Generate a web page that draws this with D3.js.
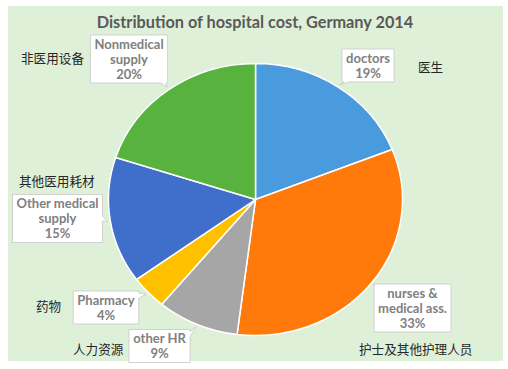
<!DOCTYPE html>
<html>
<head>
<meta charset="utf-8">
<script src="https://cdn.jsdelivr.net/npm/d3@7"></script>
<style>
  html, body { margin: 0; padding: 0; background: #fff; }
  svg { display: block; }
</style>
</head>
<body>
<svg id="chart" width="508" height="369"></svg>
<script>
// ---------- data ----------
const categories = ["doctors", "nurses & medical ass.", "other HR", "Pharmacy", "Other medical supply", "Nonmedical supply"];
const shares = [19, 33, 9, 4, 15, 20];
const labelLines = [
  ["doctors"],
  ["nurses &", "medical ass."],
  ["other HR"],
  ["Pharmacy"],
  ["Other medical", "supply"],
  ["Nonmedical", "supply"]
];
const chineseNames = ["医生", "护士及其他护理人员", "人力资源", "药物", "其他医用耗材", "非医用设备"];
const colors = ["#4a9ade", "#ff7a0a", "#a6a6a6", "#ffc000", "#3f6fca", "#58b33e"];
const title = "Distribution of hospital cost, Germany 2014";

// ---------- layout ----------
const cx = 255.5, cy = 199.5, rx = 147, ry = 136;
// callout box centres and chinese label positions (layout only)
const boxPos = [[368, 65.5], [412.5, 308], [159.5, 346], [106, 307.5], [57.5, 218.5], [129, 59]];
const cnPos = [[418, 67], [359, 349], [73, 349], [36, 306], [19, 181], [21, 58]];

const svg = d3.select("#chart");

svg.append("rect")
  .attr("x", 8).attr("y", 6)
  .attr("width", 495).attr("height", 355)
  .attr("fill", "#dff0d8");

svg.append("text")
  .attr("x", 255).attr("y", 28)
  .attr("text-anchor", "middle")
  .attr("font-family", "Lato, 'Open Sans', sans-serif")
  .attr("font-weight", "bold")
  .attr("font-size", 16.3)
  .attr("fill", "#595959")
  .text(title);

const data = categories.map((c, i) => ({ name: c, value: shares[i], i }));
const pie = d3.pie().sort(null).value(d => d.value);
const arcs = pie(data);
const arc = d3.arc().innerRadius(0).outerRadius(ry);

const pieG = svg.append("g")
  .attr("transform", `translate(${cx},${cy}) scale(${rx / ry},1)`);

pieG.selectAll("path")
  .data(arcs)
  .join("path")
  .attr("d", arc)
  .attr("fill", d => colors[d.data.i])
  .attr("stroke", "#fff")
  .attr("stroke-width", 1.5)
  .attr("vector-effect", "non-scaling-stroke");

// point on the ellipse at a given angle (0 = top, clockwise)
function ellipsePoint(a, k = 1) {
  return [cx + rx * k * Math.sin(a), cy - ry * k * Math.cos(a)];
}

// rectangle callout with a wedge pointing at (tx, ty)
function calloutPath(x0, y0, x1, y1, tx, ty) {
  const ccx = (x0 + x1) / 2, ccy = (y0 + y1) / 2;
  const dx = tx - ccx, dy = ty - ccy;
  const w = 5;
  const hw = (x1 - x0) / 2, hh = (y1 - y0) / 2;
  let side;
  if (Math.abs(dx) / hw > Math.abs(dy) / hh) side = dx > 0 ? "r" : "l";
  else side = dy > 0 ? "b" : "t";
  const clampX = v => Math.max(x0 + 2, Math.min(x1 - 2 - w, v));
  const clampY = v => Math.max(y0 + 2, Math.min(y1 - 2 - w, v));
  const pts = [];
  pts.push([x0, y0]);
  if (side === "t") { const bx = clampX(tx - w); pts.push([bx, y0], [tx, ty], [bx + w, y0]); }
  pts.push([x1, y0]);
  if (side === "r") { const by = clampY(ty - w); pts.push([x1, by], [tx, ty], [x1, by + w]); }
  pts.push([x1, y1]);
  if (side === "b") { const bx = clampX(tx); pts.push([bx + w, y1], [tx, ty], [bx, y1]); }
  pts.push([x0, y1]);
  if (side === "l") { const by = clampY(ty); pts.push([x0, by + w], [tx, ty], [x0, by]); }
  return "M" + pts.map(p => p.join(",")).join("L") + "Z";
}

const lineH = 15;
const labelG = svg.append("g");

arcs.forEach(a => {
  const i = a.data.i;
  const lines = labelLines[i].concat([`${shares[i]}%`]);
  const [bx, by] = boxPos[i];
  const g = labelG.append("g");
  const shape = g.append("path");
  const t = g.append("text")
    .attr("font-family", "Lato, 'Open Sans', sans-serif")
    .attr("font-weight", "bold")
    .attr("font-size", 13)
    .attr("fill", "#808080")
    .attr("text-anchor", "middle");
  t.selectAll("tspan")
    .data(lines)
    .join("tspan")
    .attr("x", bx)
    .attr("y", (d, k) => by + (k - (lines.length - 1) / 2) * lineH + 4.5)
    .text(d => d);
  const bb = t.node().getBBox();
  const x0 = bx - bb.width / 2 - 4, x1 = bx + bb.width / 2 + 4;
  const y0 = by - (lines.length * lineH) / 2 - 1.5, y1 = by + (lines.length * lineH) / 2 + 1.5;
  const mid = (a.startAngle + a.endAngle) / 2;
  const [tx, ty] = ellipsePoint(mid, 1.02);
  shape.attr("d", calloutPath(x0, y0, x1, y1, tx, ty))
    .attr("fill", "#fff")
    .attr("stroke", "#c8c8c8")
    .attr("stroke-width", 0.8);
});

svg.append("g").selectAll("text")
  .data(chineseNames)
  .join("text")
  .attr("x", (d, i) => cnPos[i][0])
  .attr("y", (d, i) => cnPos[i][1] + 4.5)
  .attr("font-family", "'Noto Sans CJK SC', sans-serif")
  .attr("font-size", 12.6)
  .attr("fill", "#262626")
  .text(d => d);
</script>
</body>
</html>
